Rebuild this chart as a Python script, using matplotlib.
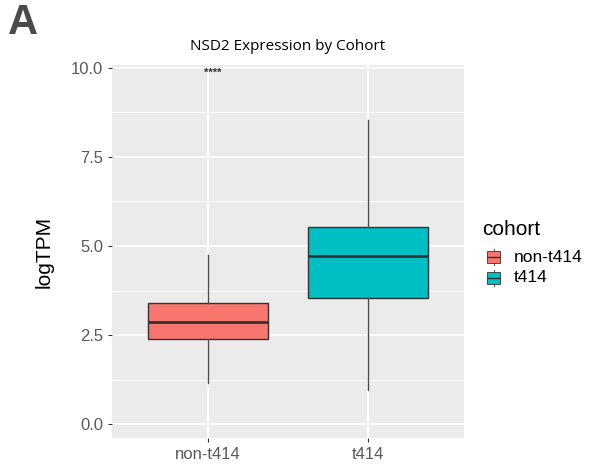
import matplotlib.pyplot as plt
from matplotlib.patches import Rectangle
from matplotlib.lines import Line2D

# box statistics
cohorts = ['non-t414', 't414']
colors = ['#F8766D', '#00BFC4']
whislo = [1.15, 0.95]
q1 = [2.39, 3.54]
med = [2.87, 4.72]
q3 = [3.40, 5.53]
whishi = [4.75, 8.54]
sig_label = '****'
sig_y = 9.85

panel_bg = '#EBEBEB'
tick_col = '#595959'

plt.rcParams['font.family'] = ['Liberation Sans', 'DejaVu Sans']

fig = plt.figure(figsize=(5.9, 4.66), dpi=100)
ax = fig.add_axes([112 / 590, 1 - 438 / 466, 352 / 590, 373 / 466])
ax.set_facecolor(panel_bg)

stats = []
for i, c in enumerate(cohorts):
    stats.append(dict(label=c, whislo=whislo[i], q1=q1[i], med=med[i],
                      q3=q3[i], whishi=whishi[i], fliers=[]))
bp = ax.bxp(stats, positions=[1, 2], widths=0.75, patch_artist=True,
            showcaps=False,
            boxprops=dict(edgecolor='#333333', linewidth=1.0),
            whiskerprops=dict(color='#4D4D4D', linewidth=1.0),
            medianprops=dict(color='#333333', linewidth=2.0))
for patch, col in zip(bp['boxes'], colors):
    patch.set_facecolor(col)
for a in bp['boxes'] + bp['whiskers'] + bp['medians']:
    a.set_zorder(3)

ax.text(1.03, sig_y, sig_label, ha='center', va='center', fontsize=8,
        fontweight='bold', color='#333333')

ax.set_xlim(0.4, 2.6)
ax.set_ylim(-0.39, 10.08)
ax.set_yticks([0, 2.5, 5.0, 7.5, 10.0])
ax.set_yticklabels(['0.0', '2.5', '5.0', '7.5', '10.0'])
ax.set_yticks([1.25, 3.75, 6.25, 8.75], minor=True)
ax.set_xticks([1, 2])
ax.set_xticklabels(cohorts)
ax.grid(which='major', color='white', linewidth=1.1, zorder=0)
ax.grid(which='minor', axis='y', color='white', linewidth=0.55, zorder=0)
ax.set_axisbelow(True)
for s in ax.spines.values():
    s.set_visible(False)
ax.tick_params(which='major', colors='#333333', labelcolor=tick_col,
               labelsize=12, length=3, width=0.8)
ax.tick_params(which='minor', length=0)
ax.set_ylabel('logTPM', fontsize=15, color='black', labelpad=12)

fig.text(288 / 590, 1 - 47 / 466, 'NSD2 Expression by Cohort', ha='center',
         va='center', fontsize=11, family=['Open Sans', 'DejaVu Sans'],
         color='black')
fig.text(8 / 590, 1 - 23 / 466, 'A', ha='left', va='center', fontsize=30,
         fontweight='bold', color='#4A4A4A')

# legend
fig.text(482 / 590, 1 - 229 / 466, 'cohort', ha='left', va='center',
         fontsize=15, color='black')
for i, (c, col) in enumerate(zip(cohorts, colors)):
    yc = 1 - (257 + 21 * i) / 466
    x0 = 487 / 590
    w = 13 / 590
    h = 12 / 466
    fig.patches.append(Rectangle((x0, yc - h / 2), w, h, transform=fig.transFigure,
                                 facecolor=col, edgecolor='#333333', linewidth=0.6))
    fig.lines.append(Line2D([x0, x0 + w], [yc, yc], transform=fig.transFigure,
                            color='#333333', linewidth=1.0))
    fig.lines.append(Line2D([x0 + w / 2] * 2, [yc + h / 2, yc + h / 2 + 2 / 466],
                            transform=fig.transFigure, color='#333333', linewidth=0.6))
    fig.lines.append(Line2D([x0 + w / 2] * 2, [yc - h / 2, yc - h / 2 - 2 / 466],
                            transform=fig.transFigure, color='#333333', linewidth=0.6))
    fig.text(514 / 590, yc, c, ha='left', va='center', fontsize=12.5,
             color='black')

fig.savefig('out.png', dpi=100, facecolor='white')
